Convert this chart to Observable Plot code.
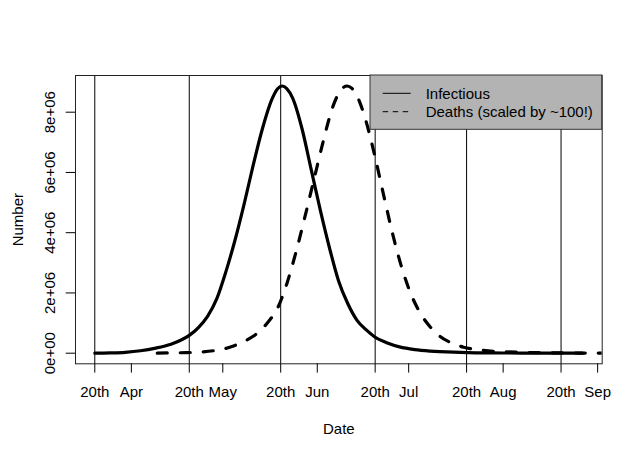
<!DOCTYPE html>
<html>
<head>
<meta charset="utf-8">
<script src="https://cdn.jsdelivr.net/npm/d3@7"></script>
<script src="https://cdn.jsdelivr.net/npm/@observablehq/plot@0.6"></script>
<style>
  html, body { margin: 0; padding: 0; background: #fff; }
</style>
</head>
<body>
<div id="chart"></div>
<script>
// ---- data (days from "20th Apr"; values in millions) ----
const infDays = [0,5,10,15,20,25,28,31,34,37,40,43,46,49,52,55,58,60,61.5,63,65,68,71,74,77,80,83,86,89,92,96,100,105,110,120,130,140,150,160];
const infVals = [0.00,0.01,0.03,0.08,0.17,0.30,0.42,0.59,0.85,1.22,1.80,2.70,3.75,4.95,6.25,7.45,8.40,8.78,8.87,8.78,8.45,7.45,6.10,4.75,3.50,2.40,1.65,1.10,0.78,0.53,0.34,0.21,0.12,0.07,0.03,0.01,0.005,0.002,0.001];

const deathDays = [20.5,25,30,35,40,45,48,51,54,57,60,63,66,69,72,75,78,80,81.3,82.8,84.3,86,89,92,95,98,101,104,107,110,113,117,121,126,131,140,150,160,170];
const deathVals = [0.00,0.01,0.02,0.04,0.10,0.22,0.35,0.50,0.72,1.05,1.50,2.30,3.35,4.55,5.80,7.05,8.15,8.62,8.80,8.87,8.80,8.55,7.70,6.50,5.15,3.85,2.75,1.90,1.30,0.88,0.58,0.34,0.20,0.11,0.06,0.03,0.01,0.005,0.002];

const majorTicks = [0,31,61,92,122,153];            // "20th" ticks (vertical lines)
const xTickPos    = [0,12,31,42,61,73,92,103,122,134,153,165];
const xTickLabels = ["20th","Apr","20th","May","20th","Jun","20th","Jul","20th","Aug","20th","Sep"];

const yTicks = [0,2e6,4e6,6e6,8e6];
const yTickLabels = ["0e+00","2e+06","4e+06","6e+06","8e+06"];

const seriesNames = ["Infectious","Deaths (scaled by ~100!)"];
const xLabel = "Date";
const yLabel = "Number";

// ---- tables ----
const infData = infDays.map((d, i) => ({day: d, value: infVals[i] * 1e6}));
const deathData = deathDays.map((d, i) => ({day: d, value: deathVals[i] * 1e6}));
const xLabelMap = new Map(xTickPos.map((p, i) => [p, xTickLabels[i]]));

const W = 640, H = 457;
const mL = 75, mR = 38.3, mT = 75, mB = 93.7;
const FS = 15;
const FONT = "'Liberation Sans', Arial, Helvetica, sans-serif";

const chart = Plot.plot({
  width: W,
  height: H,
  marginLeft: mL,
  marginRight: mR,
  marginTop: mT,
  marginBottom: mB,
  style: {fontFamily: FONT, fontSize: FS + "px", background: "#fff", overflow: "visible"},
  x: {domain: [-6.33, 166.5]},
  y: {domain: [-0.352e6, 9.218e6]},
  marks: [
    Plot.ruleX(majorTicks, {x: d => d, stroke: "#000", strokeWidth: 1}),
    Plot.line(infData, {x: "day", y: "value", stroke: "#000", strokeWidth: 3.2,
      curve: "monotone-x", strokeLinecap: "round", strokeLinejoin: "round", clip: true}),
    Plot.line(deathData, {x: "day", y: "value", stroke: "#000", strokeWidth: 3.2,
      curve: "monotone-x", strokeDasharray: "10,13", strokeLinecap: "round", strokeLinejoin: "round", clip: true}),
    Plot.frame({stroke: "#222", strokeWidth: 1}),
    Plot.axisX({ticks: xTickPos, tickFormat: d => xLabelMap.get(d), tickSize: 9.3, tickPadding: 13.5,
      fontSize: FS, label: null}),
    Plot.axisY({ticks: yTicks, tickFormat: () => "", tickSize: 9.3, label: null}),
    Plot.text(yTicks, {y: d => d, text: (d, i) => yTickLabels[i], frameAnchor: "left", dx: -20.5,
      rotate: -90, textAnchor: "middle", lineAnchor: "bottom", fontSize: FS, fill: "#000"}),
    Plot.text([yLabel], {text: d => d, frameAnchor: "left", dx: -53, rotate: -90,
      textAnchor: "middle", lineAnchor: "bottom", fontSize: FS, fill: "#000"}),
    Plot.text([xLabel], {text: d => d, frameAnchor: "bottom", dy: 70,
      textAnchor: "middle", lineAnchor: "bottom", fontSize: FS, fill: "#000"})
  ]
});

document.getElementById("chart").appendChild(chart);

// ---- legend (top-right corner of the plot area) ----
const svgSel = d3.select(chart);
const frameRight = W - mR, frameTop = mT;
const boxW = 231.7, boxH = 54.3;
const lg = svgSel.append("g")
  .attr("font-family", FONT).attr("font-size", FS).attr("text-anchor", "start");
lg.append("rect")
  .attr("x", frameRight - boxW).attr("y", frameTop)
  .attr("width", boxW).attr("height", boxH)
  .attr("fill", "#b3b3b3").attr("stroke", "#333").attr("stroke-width", 1);
const rowY = [frameTop + 18.3, frameTop + 36.7];
const dashes = [null, "5.5,4.5"];
seriesNames.forEach((name, i) => {
  lg.append("line")
    .attr("x1", frameRight - boxW + 12.7).attr("x2", frameRight - boxW + 40.7)
    .attr("y1", rowY[i]).attr("y2", rowY[i])
    .attr("stroke", "#000").attr("stroke-width", 1)
    .attr("stroke-dasharray", dashes[i]);
  lg.append("text")
    .attr("x", frameRight - boxW + 55.7).attr("y", rowY[i] + 5.2)
    .attr("text-anchor", "start")
    .attr("fill", "#000")
    .text(name);
});
</script>
</body>
</html>
